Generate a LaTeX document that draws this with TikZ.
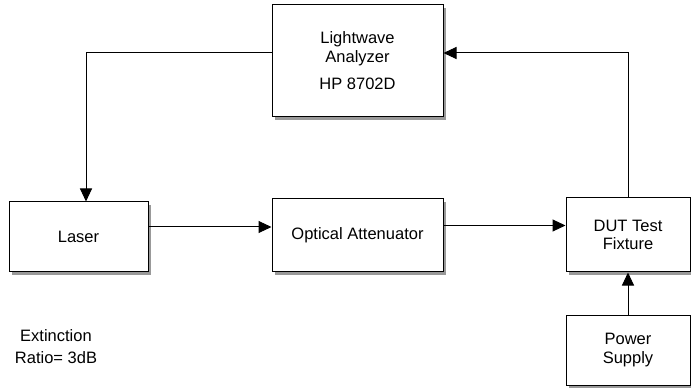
\documentclass[tikz,border=0pt]{standalone}
\usepackage{fontspec}
\setmainfont{Liberation Sans}
\usetikzlibrary{arrows.meta,shadows}

\begin{document}
\begin{tikzpicture}[x=1pt, y=-1pt, >={Triangle[length=13pt,width=12pt]},
    line width=1pt,
    block/.style={draw, fill=white, align=center,
        font=\fontsize{16.5}{18.5}\selectfont,
        drop shadow={shadow xshift=3pt, shadow yshift=-3pt, fill=gray!80, opacity=1}}]

    \useasboundingbox (0,0) rectangle (691,390);

    % Blocks
    \node[block, minimum width=171pt, minimum height=112pt] (lw) at (357.5,61)
        {Lightwave\\Analyzer\\[9pt]HP 8702D};
    \node[block, minimum width=139pt, minimum height=70pt] (laser) at (78.5,237) {Laser};
    \node[block, minimum width=171pt, minimum height=73pt] (atten) at (357.5,235.5)
        {Optical Attenuator};
    \node[block, minimum width=124pt, minimum height=74pt] (dut) at (628,235)
        {DUT Test\\Fixture};
    \node[block, minimum width=124pt, minimum height=70pt] (pwr) at (628,350)
        {Power\\Supply};

    % Note
    \node[align=center, font=\fontsize{16.5}{22}\selectfont] (note) at (56,347)
        {Extinction\\Ratio= 3dB};

    % Optical path
    \draw[->] ([yshift=10pt]laser.east) -- ([yshift=10pt]laser.east -| atten.west);
    \draw[->] ([yshift=10pt]atten.east) -- ([yshift=10pt]atten.east -| dut.west);

    % Analyzer loop
    \draw[->] ([yshift=8pt]lw.west) -| ([xshift=7.5pt]laser.north);
    \draw[->] (dut.north) |- ([yshift=8pt]lw.east);

    % Supply
    \draw[->] (pwr.north) -- (dut.south);

\end{tikzpicture}
\end{document}
